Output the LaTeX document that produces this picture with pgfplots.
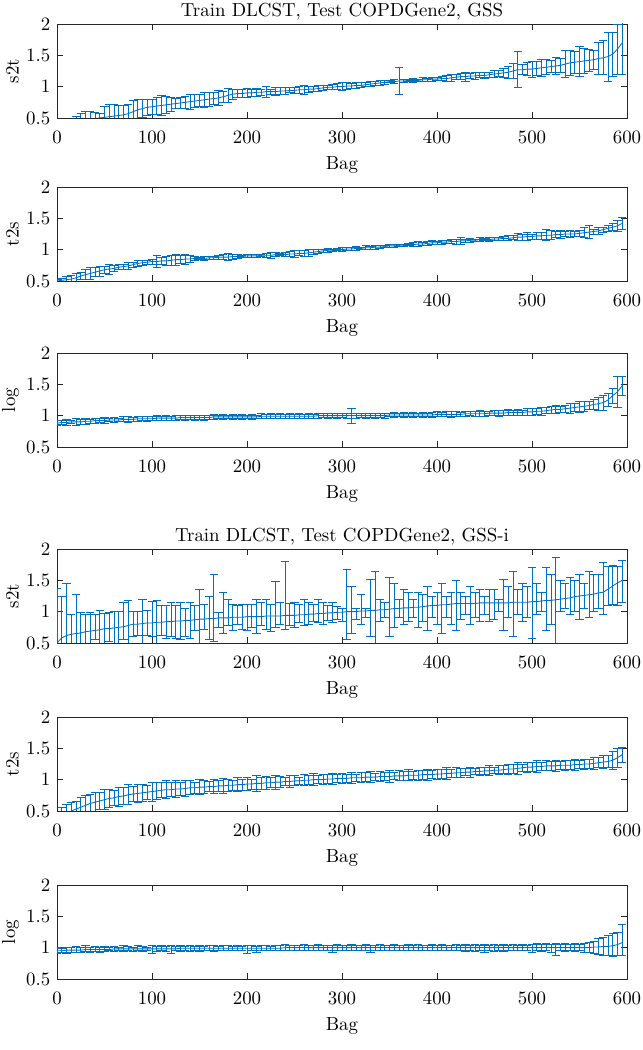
\documentclass[border=0pt]{standalone}
\usepackage{pgfplots}
\pgfplotsset{compat=1.18}
\usepackage{pgfplotstable}
\definecolor{mblue}{rgb}{0,0.447,0.741}
\definecolor{axgray}{rgb}{0.15,0.15,0.15}
\pgfplotsset{
  bagaxis/.style={
    scale only axis, width=302.1pt, height=49.8pt,
    anchor=north west,
    xmin=0, xmax=600, ymin=0.5, ymax=2,
    xtick={0,100,...,600}, ytick={0.5,1,1.5,2},
    xlabel={Bag},
    axis line style={axgray, line width=0.4pt},
    tick style={axgray, line width=0.4pt},
    tick align=inside, major tick length=3pt,
    tick label style={font=\normalsize},
    xticklabel style={yshift=-3.5pt},
    label style={font=\normalsize},
    ylabel shift=-3pt,
    title style={font=\normalsize, yshift=-7.5pt},
  },
  ebar/.style={mblue, line width=0.45pt, no markers,
    error bars/.cd, y dir=both, y explicit,
    error bar style={line width=0.45pt, mblue},
    error mark options={rotate=90, mark size=2.2pt, mblue, line width=0.45pt}},
}

% GSS, s2t : bag, mean, half width
\pgfplotstableread{
x y e
0 0.30 0.08
5 0.34 0.08
10 0.37 0.09
15 0.40 0.09
20 0.43 0.10
25 0.45 0.12
30 0.47 0.14
35 0.48 0.12
40 0.49 0.10
45 0.50 0.08
50 0.51 0.17
55 0.52 0.20
60 0.53 0.18
65 0.54 0.16
70 0.55 0.15
75 0.57 0.14
80 0.60 0.18
85 0.63 0.16
90 0.65 0.14
95 0.67 0.13
100 0.68 0.12
105 0.69 0.14
110 0.70 0.16
115 0.71 0.14
120 0.72 0.11
125 0.73 0.08
130 0.74 0.09
135 0.75 0.10
140 0.76 0.12
145 0.77 0.10
150 0.78 0.09
155 0.79 0.12
160 0.80 0.11
165 0.81 0.10
170 0.82 0.12
175 0.84 0.09
180 0.86 0.11
185 0.88 0.08
190 0.89 0.07
195 0.89 0.06
200 0.90 0.07
205 0.90 0.05
210 0.91 0.06
215 0.91 0.05
220 0.92 0.09
225 0.92 0.04
230 0.92 0.06
235 0.93 0.05
240 0.93 0.06
245 0.94 0.04
250 0.94 0.05
255 0.95 0.06
260 0.95 0.07
265 0.96 0.05
270 0.96 0.04
275 0.97 0.05
280 0.98 0.04
285 0.99 0.03
290 0.99 0.04
295 1.00 0.05
300 1.00 0.06
305 1.01 0.05
310 1.01 0.04
315 1.02 0.05
320 1.02 0.04
325 1.03 0.03
330 1.04 0.04
335 1.05 0.03
340 1.06 0.04
345 1.07 0.03
350 1.08 0.02
355 1.08 0.03
360 1.09 0.22
365 1.09 0.03
370 1.10 0.02
375 1.10 0.03
380 1.10 0.02
385 1.11 0.03
390 1.11 0.02
395 1.12 0.03
400 1.12 0.02
405 1.13 0.03
410 1.13 0.05
415 1.14 0.06
420 1.15 0.04
425 1.16 0.05
430 1.16 0.07
435 1.17 0.04
440 1.17 0.05
445 1.18 0.04
450 1.18 0.05
455 1.19 0.04
460 1.20 0.06
465 1.21 0.05
470 1.22 0.07
475 1.23 0.10
480 1.25 0.12
485 1.27 0.29
490 1.27 0.08
495 1.28 0.10
500 1.28 0.13
505 1.29 0.11
510 1.30 0.14
515 1.31 0.12
520 1.32 0.10
525 1.33 0.14
530 1.34 0.11
535 1.36 0.22
540 1.38 0.20
545 1.39 0.18
550 1.40 0.24
555 1.41 0.20
560 1.42 0.18
565 1.43 0.15
570 1.45 0.26
575 1.46 0.27
580 1.48 0.39
585 1.52 0.35
590 1.60 0.40
595 1.70 0.50
}\tA

% GSS, t2s
\pgfplotstableread{
x y e
0 0.50 0.02
5 0.51 0.03
10 0.52 0.05
15 0.53 0.06
20 0.55 0.07
25 0.58 0.05
30 0.60 0.08
35 0.62 0.09
40 0.64 0.07
45 0.66 0.08
50 0.68 0.06
55 0.69 0.08
60 0.70 0.05
65 0.72 0.04
70 0.73 0.04
75 0.74 0.05
80 0.76 0.04
85 0.78 0.05
90 0.79 0.04
95 0.80 0.03
100 0.81 0.04
105 0.81 0.09
110 0.82 0.05
115 0.82 0.07
120 0.83 0.08
125 0.84 0.09
130 0.84 0.06
135 0.85 0.08
140 0.85 0.05
145 0.86 0.03
150 0.86 0.02
155 0.86 0.03
160 0.87 0.02
165 0.87 0.02
170 0.88 0.03
175 0.88 0.04
180 0.88 0.06
185 0.89 0.04
190 0.89 0.03
195 0.89 0.02
200 0.90 0.03
205 0.90 0.02
210 0.90 0.03
215 0.91 0.02
220 0.91 0.03
225 0.91 0.05
230 0.92 0.03
235 0.92 0.02
240 0.92 0.03
245 0.93 0.04
250 0.93 0.05
255 0.94 0.04
260 0.94 0.05
265 0.95 0.06
270 0.96 0.04
275 0.97 0.03
280 0.98 0.02
285 0.99 0.03
290 0.99 0.02
295 1.00 0.02
300 1.00 0.03
305 1.01 0.02
310 1.01 0.03
315 1.02 0.03
320 1.02 0.02
325 1.03 0.03
330 1.03 0.02
335 1.04 0.03
340 1.04 0.02
345 1.05 0.02
350 1.06 0.03
355 1.06 0.02
360 1.07 0.02
365 1.07 0.02
370 1.08 0.02
375 1.08 0.03
380 1.09 0.04
385 1.09 0.03
390 1.10 0.03
395 1.11 0.03
400 1.11 0.02
405 1.12 0.03
410 1.12 0.02
415 1.13 0.03
420 1.13 0.04
425 1.14 0.05
430 1.14 0.03
435 1.15 0.03
440 1.15 0.02
445 1.16 0.03
450 1.16 0.02
455 1.16 0.03
460 1.17 0.02
465 1.17 0.03
470 1.18 0.03
475 1.18 0.04
480 1.19 0.03
485 1.20 0.06
490 1.20 0.05
495 1.21 0.06
500 1.21 0.04
505 1.22 0.05
510 1.22 0.06
515 1.23 0.09
520 1.23 0.07
525 1.24 0.05
530 1.24 0.06
535 1.25 0.04
540 1.25 0.05
545 1.25 0.04
550 1.26 0.05
555 1.27 0.08
560 1.28 0.10
565 1.29 0.04
570 1.30 0.05
575 1.32 0.04
580 1.34 0.05
585 1.36 0.06
590 1.38 0.09
595 1.42 0.10
}\tB

% GSS, log
\pgfplotstableread{
x y e
0 0.88 0.04
5 0.89 0.03
10 0.89 0.05
15 0.90 0.03
20 0.90 0.05
25 0.90 0.04
30 0.91 0.05
35 0.91 0.03
40 0.92 0.04
45 0.92 0.03
50 0.92 0.05
55 0.93 0.03
60 0.93 0.04
65 0.93 0.03
70 0.94 0.04
75 0.94 0.05
80 0.94 0.03
85 0.95 0.04
90 0.95 0.03
95 0.95 0.04
100 0.95 0.03
105 0.96 0.04
110 0.96 0.03
115 0.96 0.04
120 0.96 0.03
125 0.96 0.04
130 0.97 0.03
135 0.97 0.04
140 0.97 0.03
145 0.97 0.04
150 0.97 0.03
155 0.97 0.04
160 0.97 0.03
165 0.98 0.04
170 0.98 0.03
175 0.98 0.04
180 0.98 0.03
185 0.98 0.04
190 0.98 0.03
195 0.98 0.04
200 0.98 0.03
205 0.98 0.04
210 0.98 0.03
215 0.99 0.04
220 0.99 0.03
225 0.99 0.04
230 0.99 0.03
235 0.99 0.04
240 0.99 0.03
245 0.99 0.04
250 0.99 0.03
255 0.99 0.04
260 0.99 0.03
265 0.99 0.04
270 0.99 0.03
275 1.00 0.04
280 1.00 0.03
285 1.00 0.04
290 1.00 0.03
295 1.00 0.04
300 1.00 0.03
305 1.00 0.04
310 1.00 0.12
315 1.00 0.04
320 1.00 0.03
325 1.00 0.04
330 1.00 0.03
335 1.00 0.04
340 1.00 0.03
345 1.00 0.04
350 1.01 0.03
355 1.01 0.04
360 1.01 0.03
365 1.01 0.04
370 1.01 0.03
375 1.01 0.04
380 1.01 0.03
385 1.01 0.04
390 1.01 0.03
395 1.01 0.04
400 1.02 0.04
405 1.02 0.03
410 1.02 0.04
415 1.02 0.05
420 1.02 0.04
425 1.02 0.03
430 1.03 0.04
435 1.03 0.03
440 1.03 0.04
445 1.03 0.05
450 1.03 0.04
455 1.04 0.03
460 1.04 0.04
465 1.04 0.05
470 1.04 0.04
475 1.05 0.05
480 1.05 0.04
485 1.05 0.05
490 1.05 0.04
495 1.06 0.05
500 1.06 0.06
505 1.07 0.05
510 1.07 0.06
515 1.08 0.05
520 1.09 0.06
525 1.10 0.07
530 1.10 0.05
535 1.11 0.06
540 1.12 0.08
545 1.13 0.07
550 1.14 0.09
555 1.15 0.08
560 1.16 0.06
565 1.18 0.08
570 1.19 0.10
575 1.21 0.12
580 1.25 0.10
585 1.32 0.12
590 1.38 0.25
595 1.48 0.15
}\tC

% GSS-i, s2t : bag, mean, bar bottom, bar top
\pgfplotstableread{
x y lo hi
0 0.50 0.30 1.37
5 0.58 0.35 1.25
10 0.62 0.40 1.45
15 0.64 0.45 0.95
20 0.65 0.35 1.27
25 0.66 0.40 0.98
30 0.68 0.42 0.96
35 0.69 0.45 0.98
40 0.70 0.55 0.96
45 0.71 0.45 1.02
50 0.73 0.48 0.97
55 0.73 0.53 0.98
60 0.74 0.45 1.00
65 0.75 0.48 1.00
70 0.76 0.55 1.14
75 0.78 0.42 1.18
80 0.80 0.60 1.00
85 0.80 0.62 1.00
90 0.81 0.45 1.20
95 0.82 0.62 1.02
100 0.82 0.60 1.17
105 0.83 0.45 1.18
110 0.83 0.62 1.10
115 0.84 0.58 1.10
120 0.84 0.60 1.15
125 0.85 0.57 1.10
130 0.85 0.56 1.15
135 0.86 0.60 1.05
140 0.86 0.58 1.15
145 0.87 0.70 1.10
150 0.88 0.50 1.35
155 0.88 0.72 1.12
160 0.89 0.55 1.25
165 0.89 0.52 1.60
170 0.90 0.75 0.98
175 0.90 0.65 1.30
180 0.90 0.78 1.20
185 0.91 0.70 1.12
190 0.91 0.80 1.10
195 0.91 0.72 1.12
200 0.92 0.70 1.12
205 0.92 0.75 1.12
210 0.92 0.66 1.20
215 0.92 0.78 1.15
220 0.93 0.72 1.20
225 0.93 0.68 1.12
230 0.93 0.75 1.48
235 0.93 0.80 1.15
240 0.94 0.72 1.80
245 0.94 0.78 1.13
250 0.94 0.75 1.15
255 0.95 0.82 1.12
260 0.95 0.78 1.20
265 0.96 0.80 1.15
270 0.96 0.85 1.12
275 0.97 0.82 1.20
280 0.97 0.80 1.15
285 0.98 0.86 1.10
290 0.98 0.83 1.15
295 0.99 0.88 1.08
300 0.99 0.85 1.05
305 1.00 0.55 1.68
310 1.00 0.65 1.40
315 1.00 0.88 1.05
320 1.01 0.80 1.27
325 1.01 0.90 1.05
330 1.02 0.60 1.52
335 1.02 0.40 1.65
340 1.03 0.85 1.20
345 1.03 0.90 1.15
350 1.04 0.60 1.55
355 1.05 0.75 1.45
360 1.05 0.90 1.20
365 1.06 0.80 1.35
370 1.06 0.85 1.30
375 1.07 0.90 1.20
380 1.07 0.75 1.30
385 1.08 0.85 1.28
390 1.09 0.70 1.40
395 1.10 0.90 1.25
400 1.10 0.80 1.30
405 1.11 0.65 1.45
410 1.11 0.90 1.25
415 1.12 0.80 1.30
420 1.13 0.70 1.50
425 1.13 0.88 1.30
430 1.13 0.95 1.25
435 1.13 0.80 1.40
440 1.13 0.90 1.30
445 1.14 0.85 1.35
450 1.14 0.95 1.25
455 1.14 0.85 1.35
460 1.14 0.88 1.35
465 1.14 1.00 1.20
470 1.14 0.70 1.52
475 1.14 0.90 1.40
480 1.15 0.60 1.65
485 1.15 0.95 1.35
490 1.15 0.85 1.45
495 1.15 0.90 1.40
500 1.16 0.58 1.70
505 1.16 0.95 1.45
510 1.17 1.00 1.30
515 1.18 0.70 1.70
520 1.18 0.80 1.60
525 1.19 0.50 1.86
530 1.20 1.00 1.50
535 1.21 1.05 1.45
540 1.22 0.95 1.55
545 1.24 1.00 1.50
550 1.25 0.88 1.60
555 1.26 1.05 1.45
560 1.27 0.90 1.65
565 1.28 1.00 1.60
570 1.30 1.05 1.60
575 1.31 0.95 1.78
580 1.36 1.10 1.72
585 1.41 1.12 1.73
590 1.46 1.10 1.72
595 1.50 1.15 1.82
}\tD

% GSS-i, t2s
\pgfplotstableread{
x y e
0 0.38 0.12
5 0.42 0.13
10 0.46 0.14
15 0.50 0.13
20 0.53 0.12
25 0.56 0.15
30 0.59 0.16
35 0.62 0.14
40 0.64 0.15
45 0.66 0.13
50 0.68 0.16
55 0.70 0.14
60 0.71 0.12
65 0.73 0.15
70 0.74 0.13
75 0.76 0.16
80 0.77 0.12
85 0.78 0.14
90 0.79 0.13
95 0.80 0.11
100 0.81 0.15
105 0.82 0.13
110 0.83 0.12
115 0.84 0.14
120 0.84 0.11
125 0.85 0.13
130 0.85 0.10
135 0.86 0.12
140 0.87 0.11
145 0.87 0.09
150 0.88 0.12
155 0.88 0.10
160 0.89 0.08
165 0.89 0.11
170 0.90 0.09
175 0.90 0.12
180 0.91 0.10
185 0.91 0.08
190 0.92 0.11
195 0.92 0.09
200 0.93 0.10
205 0.93 0.08
210 0.94 0.12
215 0.94 0.09
220 0.95 0.10
225 0.95 0.08
230 0.96 0.11
235 0.96 0.09
240 0.97 0.07
245 0.97 0.10
250 0.98 0.08
255 0.98 0.06
260 0.99 0.09
265 0.99 0.07
270 1.00 0.10
275 1.00 0.06
280 1.00 0.08
285 1.01 0.07
290 1.01 0.09
295 1.02 0.06
300 1.02 0.08
305 1.02 0.07
310 1.03 0.09
315 1.03 0.06
320 1.03 0.08
325 1.04 0.07
330 1.04 0.09
335 1.04 0.06
340 1.05 0.08
345 1.05 0.07
350 1.05 0.09
355 1.06 0.06
360 1.06 0.08
365 1.06 0.07
370 1.07 0.09
375 1.07 0.06
380 1.07 0.08
385 1.08 0.07
390 1.08 0.09
395 1.08 0.06
400 1.09 0.08
405 1.09 0.07
410 1.10 0.09
415 1.10 0.06
420 1.11 0.08
425 1.11 0.07
430 1.12 0.06
435 1.12 0.08
440 1.13 0.05
445 1.13 0.07
450 1.14 0.06
455 1.14 0.08
460 1.15 0.05
465 1.15 0.07
470 1.16 0.06
475 1.17 0.08
480 1.17 0.07
485 1.18 0.09
490 1.19 0.06
495 1.20 0.08
500 1.20 0.07
505 1.21 0.09
510 1.21 0.06
515 1.22 0.08
520 1.22 0.07
525 1.22 0.09
530 1.23 0.06
535 1.23 0.08
540 1.23 0.07
545 1.24 0.09
550 1.24 0.06
555 1.25 0.08
560 1.25 0.07
565 1.26 0.09
570 1.27 0.08
575 1.28 0.10
580 1.29 0.09
585 1.31 0.14
590 1.35 0.15
595 1.40 0.12
}\tE

% GSS-i, log : bag, mean, bar bottom, bar top
\pgfplotstableread{
x y lo hi
0 0.95 0.91 1.00
5 0.95 0.93 0.99
10 0.96 0.90 1.01
15 0.96 0.93 1.00
20 0.96 0.92 1.02
25 0.96 0.92 1.00
30 0.97 0.94 1.03
35 0.97 0.93 1.01
40 0.97 0.94 1.02
45 0.97 0.93 1.00
50 0.97 0.94 1.02
55 0.97 0.95 1.01
60 0.98 0.94 1.02
65 0.98 0.95 1.01
70 0.98 0.94 1.03
75 0.98 0.95 1.02
80 0.98 0.94 1.01
85 0.98 0.95 1.03
90 0.98 0.94 1.02
95 0.98 0.95 1.01
100 0.98 0.90 1.03
105 0.98 0.94 1.02
110 0.98 0.95 1.04
115 0.98 0.94 1.02
120 0.98 0.90 1.03
125 0.98 0.95 1.02
130 0.99 0.94 1.03
135 0.99 0.95 1.02
140 0.99 0.94 1.04
145 0.99 0.95 1.02
150 0.99 0.94 1.03
155 0.99 0.96 1.02
160 0.99 0.95 1.03
165 0.99 0.94 1.04
170 0.99 0.95 1.02
175 0.99 0.96 1.03
180 0.99 0.95 1.04
185 0.99 0.96 1.02
190 0.99 0.95 1.03
195 0.99 0.96 1.02
200 0.99 0.90 1.04
205 0.99 0.96 1.03
210 0.99 0.93 1.02
215 0.99 0.95 1.04
220 0.99 0.96 1.03
225 0.99 0.95 1.02
230 0.99 0.96 1.04
235 0.99 0.95 1.03
240 1.00 0.96 1.05
245 1.00 0.95 1.03
250 1.00 0.96 1.04
255 1.00 0.95 1.03
260 1.00 0.96 1.05
265 1.00 0.95 1.04
270 1.00 0.96 1.03
275 1.00 0.95 1.05
280 1.00 0.96 1.04
285 1.00 0.95 1.03
290 1.00 0.92 1.04
295 1.00 0.96 1.05
300 1.00 0.95 1.03
305 1.00 0.96 1.04
310 1.00 0.95 1.05
315 1.00 0.96 1.03
320 1.00 0.95 1.04
325 1.00 0.96 1.05
330 1.00 0.93 1.04
335 1.00 0.96 1.03
340 1.00 0.95 1.05
345 1.00 0.96 1.04
350 1.00 0.95 1.03
355 1.00 0.96 1.05
360 1.00 0.95 1.04
365 1.00 0.96 1.03
370 1.00 0.95 1.05
375 1.00 0.96 1.04
380 1.00 0.95 1.05
385 1.00 0.96 1.04
390 1.00 0.95 1.03
395 1.00 0.96 1.05
400 1.00 0.95 1.04
405 1.00 0.96 1.05
410 1.00 0.95 1.04
415 1.00 0.96 1.03
420 1.00 0.95 1.05
425 1.00 0.96 1.04
430 1.00 0.94 1.05
435 1.00 0.95 1.04
440 1.00 0.94 1.05
445 1.00 0.95 1.04
450 1.00 0.93 1.05
455 1.00 0.95 1.04
460 1.00 0.94 1.05
465 1.00 0.95 1.04
470 1.00 0.94 1.05
475 1.00 0.96 1.04
480 1.00 0.95 1.05
485 1.00 0.96 1.04
490 1.00 0.95 1.05
495 1.00 0.96 1.04
500 1.00 0.93 1.05
505 1.00 0.95 1.06
510 1.00 0.94 1.05
515 1.00 0.95 1.06
520 1.00 0.93 1.05
525 1.00 0.88 1.06
530 1.00 0.95 1.05
535 1.00 0.94 1.06
540 1.00 0.95 1.05
545 1.00 0.94 1.06
550 1.00 0.95 1.05
555 1.00 0.93 1.07
560 1.00 0.92 1.08
565 1.01 0.91 1.10
570 1.01 0.89 1.14
575 1.02 0.88 1.17
580 1.02 0.87 1.20
585 1.03 0.86 1.22
590 1.05 0.87 1.25
595 1.08 0.88 1.37
}\tF

\begin{document}
\begin{tikzpicture}
\path[use as bounding box] (0,0) rectangle (340.26pt,-556.5pt);

% first figure: GSS
\begin{axis}[bagaxis, at={(30.21pt,-12.72pt)}, ylabel={s2t},
  title={Train DLCST, Test COPDGene2, GSS}]
\addplot[ebar] table[x=x, y=y, y error=e] {\tA};
\end{axis}

\begin{axis}[bagaxis, at={(30.21pt,-99.11pt)}, ylabel={t2s}]
\addplot[ebar] table[x=x, y=y, y error=e] {\tB};
\end{axis}

\begin{axis}[bagaxis, at={(30.21pt,-187.09pt)}, ylabel={log}]
\addplot[ebar] table[x=x, y=y, y error=e] {\tC};
\end{axis}

% second figure: GSS-i
\begin{axis}[bagaxis, at={(30.21pt,-290.97pt)}, ylabel={s2t},
  title={Train DLCST, Test COPDGene2, GSS-i}]
\addplot[ebar] table[x=x, y=y,
  y error plus expr=\thisrow{hi}-\thisrow{y},
  y error minus expr=\thisrow{y}-\thisrow{lo}] {\tD};
\end{axis}

\begin{axis}[bagaxis, at={(30.21pt,-380.01pt)}, ylabel={t2s}]
\addplot[ebar] table[x=x, y=y, y error=e] {\tE};
\end{axis}

\begin{axis}[bagaxis, at={(30.21pt,-469.05pt)}, ylabel={log}]
\addplot[ebar] table[x=x, y=y,
  y error plus expr=\thisrow{hi}-\thisrow{y},
  y error minus expr=\thisrow{y}-\thisrow{lo}] {\tF};
\end{axis}
\end{tikzpicture}
\end{document}
